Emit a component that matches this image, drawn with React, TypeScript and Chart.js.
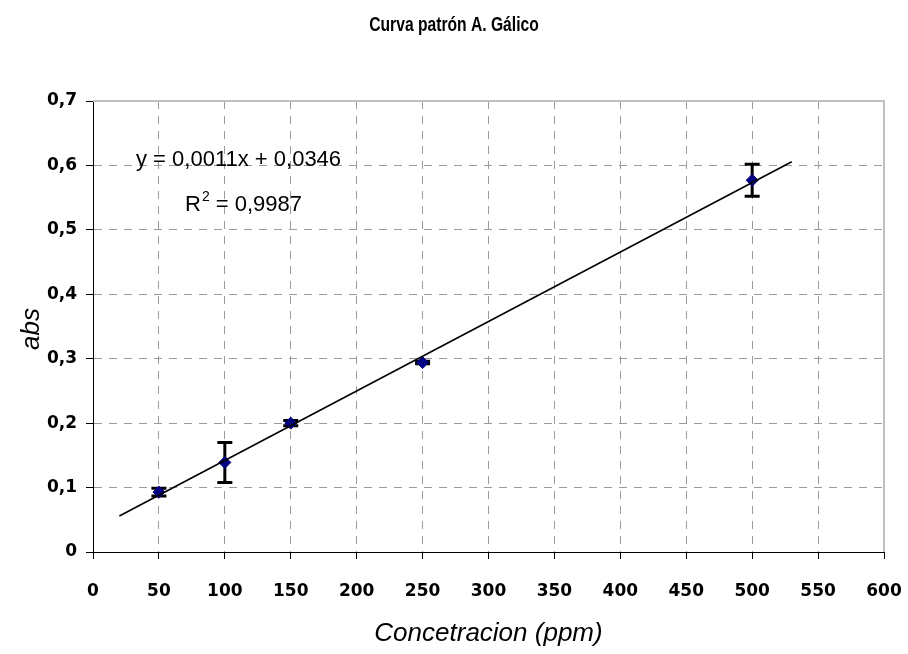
import React, { useEffect, useRef } from "react";
import { Chart, registerables } from "chart.js";

Chart.register(...registerables);

// ---- Data ----
const concentrations = [50, 100, 150, 250, 500];
const absorbances = [0.093, 0.139, 0.2, 0.294, 0.577];
const errors = [0.006, 0.031, 0.004, 0.002, 0.025];
const trendRange = [20, 530];
const xTicks = [0, 50, 100, 150, 200, 250, 300, 350, 400, 450, 500, 550, 600];
const yTicks = [0, 0.1, 0.2, 0.3, 0.4, 0.5, 0.6, 0.7];
const titleText = "Curva patrón A. Gálico";
const xTitle = "Concetracion (ppm)";
const yTitle = "abs";
const eqLine1 = "y = 0,0011x + 0,0346";
const eqLine2 = "= 0,9987";

// least squares fit of the data for the trendline
function fit(xs: number[], ys: number[]) {
  const n = xs.length;
  const mx = xs.reduce((a, b) => a + b, 0) / n;
  const my = ys.reduce((a, b) => a + b, 0) / n;
  let sxy = 0, sxx = 0;
  for (let i = 0; i < n; i++) {
    sxy += (xs[i] - mx) * (ys[i] - my);
    sxx += (xs[i] - mx) * (xs[i] - mx);
  }
  const m = sxy / sxx;
  return { m, b: my - m * mx };
}

const TICK_FONT = { family: "'DejaVu Sans', sans-serif", size: 17, weight: "bold" as const };

export default function App() {
  const ref = useRef<HTMLCanvasElement | null>(null);
  useEffect(() => {
    const canvas = ref.current!;
    const { m, b } = fit(concentrations, absorbances);
    const trend = trendRange.map((x) => ({ x, y: m * x + b }));
    const pts = concentrations.map((x, i) => ({ x, y: absorbances[i] }));

    const errorBars = {
      id: "errorBars",
      beforeDatasetsDraw(chart: any) {
        const ctx = chart.ctx;
        const xs = chart.scales.x, ys = chart.scales.y;
        ctx.save();
        ctx.strokeStyle = "#000";
        ctx.lineWidth = 3;
        concentrations.forEach((x, i) => {
          const px = xs.getPixelForValue(x);
          const top = ys.getPixelForValue(absorbances[i] + errors[i]);
          const bot = ys.getPixelForValue(absorbances[i] - errors[i]);
          ctx.beginPath();
          ctx.moveTo(px, top);
          ctx.lineTo(px, bot);
          ctx.moveTo(px - 7.5, top);
          ctx.lineTo(px + 7.5, top);
          ctx.moveTo(px - 7.5, bot);
          ctx.lineTo(px + 7.5, bot);
          ctx.stroke();
        });
        ctx.restore();
      },
    };

    const decorations = {
      id: "decorations",
      beforeDatasetsDraw(chart: any) {
        const ctx = chart.ctx;
        const a = chart.chartArea;
        ctx.save();
        ctx.strokeStyle = "#c0c0c0";
        ctx.lineWidth = 2;
        ctx.beginPath();
        ctx.moveTo(a.left, a.top);
        ctx.lineTo(a.right, a.top);
        ctx.lineTo(a.right, a.bottom);
        ctx.stroke();
        ctx.restore();
      },
      afterDraw(chart: any) {
        const ctx = chart.ctx;
        const a = chart.chartArea;
        ctx.save();
        ctx.fillStyle = "#000";
        // title (condensed)
        ctx.font = "bold 21px 'Liberation Sans', Arial, sans-serif";
        ctx.textAlign = "center";
        ctx.textBaseline = "alphabetic";
        ctx.save();
        ctx.translate(454, 31);
        ctx.scale(0.745, 1);
        ctx.fillText(titleText, 0, 0);
        ctx.restore();
        // x title
        ctx.font = "italic 26px 'Liberation Sans', Arial, sans-serif";
        ctx.fillText(xTitle, (a.left + a.right) / 2, 641);
        // y title
        ctx.save();
        ctx.translate(39, 329);
        ctx.rotate(-Math.PI / 2);
        ctx.fillText(yTitle, 0, 0);
        ctx.restore();
        // equation
        ctx.textAlign = "left";
        ctx.font = "22px 'Liberation Sans', Arial, sans-serif";
        ctx.fillText(eqLine1, 136, 166);
        ctx.fillText("R", 185, 211);
        const rw = ctx.measureText("R").width;
        ctx.font = "14px 'Liberation Sans', Arial, sans-serif";
        ctx.fillText("2", 185 + rw + 1, 201);
        const sw = ctx.measureText("2").width;
        ctx.font = "22px 'Liberation Sans', Arial, sans-serif";
        ctx.fillText(" " + eqLine2, 185 + rw + 1 + sw, 211);
        ctx.restore();
      },
    };

    const gridColor = (max: number) => (c: any) => {
      const v = c.tick ? c.tick.value : 0;
      return Math.abs(v) < 1e-9 || Math.abs(v - max) < 1e-9 ? "rgba(0,0,0,0)" : "#9a9a9a";
    };

    const chart = new Chart(canvas, {
      type: "scatter",
      data: {
        datasets: [
          {
            type: "line",
            data: trend,
            borderColor: "#000",
            borderWidth: 1.6,
            pointRadius: 0,
            showLine: true,
            fill: false,
          } as any,
          {
            data: pts,
            pointStyle: "rectRot",
            pointRadius: 6,
            backgroundColor: "#000080",
            borderColor: "#000080",
            borderWidth: 1,
          },
        ],
      },
      options: {
        animation: false,
        responsive: false,
        devicePixelRatio: 1,
        layout: { padding: { top: 101, right: 24, left: 0, bottom: 0 } },
        plugins: { legend: { display: false }, tooltip: { enabled: false }, title: { display: false } },
        scales: {
          x: {
            type: "linear",
            min: 0,
            max: 600,
            afterBuildTicks: (s: any) => { s.ticks = xTicks.map((v) => ({ value: v })); },
            afterFit: (s: any) => { s.height = 102; s.paddingLeft = 0; s.paddingRight = 0; },
            ticks: { font: TICK_FONT, color: "#000", padding: 22, maxRotation: 0, autoSkip: false,
              callback: (v: any) => String(v) },
            grid: { color: gridColor(600), lineWidth: 1, tickColor: "#000", tickLength: 7, tickBorderDash: [] },
            border: { color: "#000", width: 1, dash: [8, 7] },
          },
          y: {
            type: "linear",
            min: 0,
            max: 0.7,
            afterBuildTicks: (s: any) => { s.ticks = yTicks.map((v) => ({ value: v })); },
            afterFit: (s: any) => { s.width = 93; s.paddingTop = 0; s.paddingBottom = 0; },
            ticks: { font: TICK_FONT, color: "#000", padding: 9, autoSkip: false,
              callback: (v: any) => (Math.abs(v) < 1e-9 ? "0" : Number(v).toFixed(1).replace(".", ",")) },
            grid: { color: gridColor(0.7), lineWidth: 1, tickColor: "#000", tickLength: 7, tickBorderDash: [] },
            border: { color: "#000", width: 1, dash: [8, 7] },
          },
        },
      },
      plugins: [errorBars, decorations],
    });
    return () => chart.destroy();
  }, []);

  return (
    <div style={{ position: "fixed", left: 0, top: 0, width: 908, height: 654, background: "#fff" }}>
      <canvas ref={ref} width={908} height={654} style={{ width: 908, height: 654 }} />
    </div>
  );
}
